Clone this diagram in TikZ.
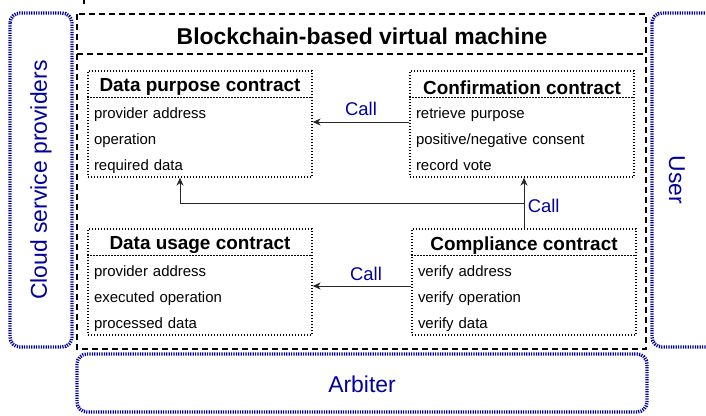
\documentclass[tikz,border=0pt]{standalone}
\usepackage{fontspec}
\setmainfont{Liberation Sans}
\usetikzlibrary{arrows.meta}
\usetikzlibrary{positioning}
\definecolor{cloudblue}{RGB}{0,0,160}

\begin{document}
\begin{tikzpicture}[x=1bp,y=1bp,node distance=26bp,on grid,
    dots/.style={line width=1.3bp,dash pattern=on 1.3bp off 1.7bp},
    contract/.style={draw,dots,minimum width=224bp,minimum height=106bp,inner sep=0pt},
    ctitle/.style={font=\bfseries\fontsize{19}{22}\selectfont,inner sep=0pt},
    item/.style={text width=212bp,align=left,text height=11bp,text depth=3.5bp,inner sep=0pt,
                 font=\fontsize{15}{18}\selectfont},
    call/.style={text=cloudblue,font=\fontsize{18.5}{22}\selectfont},
    actor/.style={text=cloudblue,font=\fontsize{23}{27}\selectfont,inner sep=0pt},
    party/.style={draw=cloudblue,line width=3.4bp,dash pattern=on 1.2bp off 1.2bp,rounded corners=10bp},
    vm/.style={draw,line width=1.5bp,dash pattern=on 6bp off 4bp},
    >={Stealth[length=8bp,width=7bp,inset=2.5bp]}]
    \useasboundingbox (0,0) rectangle (706,-415);
    % parties
    \draw[party] (10,-13) rectangle (72,-347);
    \node[actor,rotate=90]  (CSP) at (41,-180)           {Cloud service providers};
    \draw[party] (652,-13) rectangle (740,-347);
    \node[actor,rotate=-90] (USR) at (677,-180)          {User};
    \draw[party] (77,-354) rectangle (647,-412);
    \node[actor]            (ARB) at (362,-384)          {Arbiter};
    % virtual machine
    \draw[line width=1.5bp] (84,0) -- (84,-4);
    \draw[vm] (77,-14) rectangle (646,-349);
    \draw[vm] (77,-54) -- (646,-54);
    \node[font=\bfseries\fontsize{23}{27}\selectfont] (VM) at (362,-36) {Blockchain-based virtual machine};
    % Data purpose
    \node[contract]         (DP)  at (200,-124)                  {};
    \node[ctitle]           (DPt) at ([yshift=-17bp]DP.north)    {Data purpose contract};
    \node[item]             (DP1) at ([yshift=-44bp]DP.north)    {provider address};
    \node[item]             (DP2) [below=of DP1]                 {operation};
    \node[item]             (DP3) [below=of DP2]                 {required data};
    \draw[dots] ([yshift=-27bp]DP.north west) -- ([yshift=-27bp]DP.north east);
    % Confirmation
    \node[contract]         (CF)  at (522,-124)                  {};
    \node[ctitle]           (CFt) at ([yshift=-17bp]CF.north)    {Confirmation contract};
    \node[item]             (CF1) at ([yshift=-44bp]CF.north)    {retrieve purpose};
    \node[item]             (CF2) [below=of CF1]                 {positive/negative consent};
    \node[item]             (CF3) [below=of CF2]                 {record vote};
    \draw[dots] ([yshift=-27bp]CF.north west) -- ([yshift=-27bp]CF.north east);
    % Data usage
    \node[contract]         (DU)  at (200,-282)                  {};
    \node[ctitle]           (DUt) at ([yshift=-17bp]DU.north)    {Data usage contract};
    \node[item]             (DU1) at ([yshift=-44bp]DU.north)    {provider address};
    \node[item]             (DU2) [below=of DU1]                 {executed operation};
    \node[item]             (DU3) [below=of DU2]                 {processed data};
    \draw[dots] ([yshift=-27bp]DU.north west) -- ([yshift=-27bp]DU.north east);
    % Compliance
    \node[contract]         (CO)  at (524,-282)                  {};
    \node[ctitle]           (COt) at ([yshift=-17bp]CO.north)    {Compliance contract};
    \node[item]             (CO1) at ([yshift=-44bp]CO.north)    {verify address};
    \node[item]             (CO2) [below=of CO1]                 {verify operation};
    \node[item]             (CO3) [below=of CO2]                 {verify data};
    \draw[dots] ([yshift=-27bp]CO.north west) -- ([yshift=-27bp]CO.north east);
    % calls
    \coordinate (J) at (CO.north |- 0,-203);
    \path[->,line width=1bp,black!85]
          ([yshift=2bp]CF.west)  edge node[call,above=3bp]                {Call} ([yshift=2bp]DP.east)
          ([yshift=-4bp]CO.west) edge node[call,above=1.5bp,xshift=4bp]   {Call} ([yshift=-4bp]DU.east)
          (CO.north)             edge node[call,right,yshift=-3bp]        {Call} (CO.north |- CF.south)
          (J)                    edge [to path={-| (\tikztotarget)}] ([xshift=-20bp]DP.south);
\end{tikzpicture}
\end{document}
